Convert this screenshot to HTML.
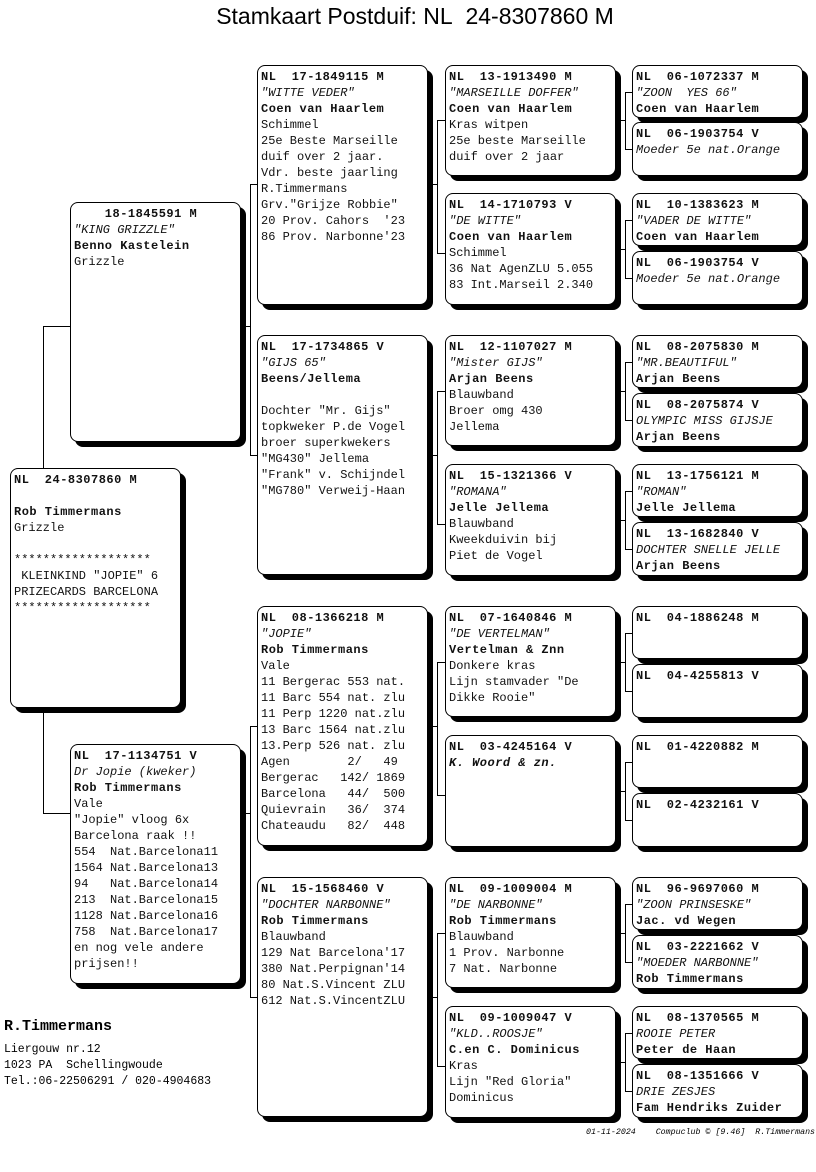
<!DOCTYPE html>
<html><head><meta charset="utf-8"><style>
body{margin:0;width:816px;height:1172px;background:#fff;position:relative;overflow:hidden;font-family:"Liberation Mono",monospace;}
.b{position:absolute;width:171px;border:1px solid #000;border-radius:8px;box-shadow:5px 5px 0 #000;background:#fff;box-sizing:border-box;padding:3px 0 0 3px;font-size:12px;line-height:16px;white-space:pre;color:#111;overflow:hidden}
.b b{font-weight:bold;letter-spacing:0.5px}
.l{position:absolute;background:#000}
i{font-style:italic}
</style></head><body>
<div style="position:absolute;left:0;width:830px;top:3px;text-align:center;font-family:'Liberation Sans',sans-serif;font-size:23px">Stamkaart Postduif: NL&nbsp; 24-8307860 M</div>

<!-- connectors -->
<div class="l" style="left:43px;top:326px;width:1px;height:142px"></div>
<div class="l" style="left:43px;top:326px;width:27px;height:1px"></div>
<div class="l" style="left:43px;top:712px;width:1px;height:101px"></div>
<div class="l" style="left:43px;top:813px;width:27px;height:1px"></div>

<div class="l" style="left:250px;top:184px;width:1px;height:271px"></div>
<div class="l" style="left:243px;top:326px;width:7px;height:1px"></div>
<div class="l" style="left:250px;top:184px;width:7px;height:1px"></div>
<div class="l" style="left:250px;top:455px;width:7px;height:1px"></div>
<div class="l" style="left:250px;top:726px;width:1px;height:271px"></div>
<div class="l" style="left:243px;top:813px;width:7px;height:1px"></div>
<div class="l" style="left:250px;top:726px;width:7px;height:1px"></div>
<div class="l" style="left:250px;top:997px;width:7px;height:1px"></div>

<div class="l" style="left:437px;top:120px;width:1px;height:133px"></div><div class="l" style="left:430px;top:184px;width:7px;height:1px"></div><div class="l" style="left:437px;top:120px;width:8px;height:1px"></div><div class="l" style="left:437px;top:253px;width:8px;height:1px"></div>
<div class="l" style="left:437px;top:391px;width:1px;height:133px"></div><div class="l" style="left:430px;top:455px;width:7px;height:1px"></div><div class="l" style="left:437px;top:391px;width:8px;height:1px"></div><div class="l" style="left:437px;top:524px;width:8px;height:1px"></div>
<div class="l" style="left:437px;top:662px;width:1px;height:133px"></div><div class="l" style="left:430px;top:726px;width:7px;height:1px"></div><div class="l" style="left:437px;top:662px;width:8px;height:1px"></div><div class="l" style="left:437px;top:795px;width:8px;height:1px"></div>
<div class="l" style="left:437px;top:933px;width:1px;height:133px"></div><div class="l" style="left:430px;top:997px;width:7px;height:1px"></div><div class="l" style="left:437px;top:933px;width:8px;height:1px"></div><div class="l" style="left:437px;top:1066px;width:8px;height:1px"></div>

<div class="l" style="left:625px;top:92px;width:1px;height:57px"></div><div class="l" style="left:625px;top:92px;width:7px;height:1px"></div><div class="l" style="left:625px;top:149px;width:7px;height:1px"></div><div class="l" style="left:618px;top:120px;width:7px;height:1px"></div>
<div class="l" style="left:625px;top:220px;width:1px;height:58px"></div><div class="l" style="left:625px;top:220px;width:7px;height:1px"></div><div class="l" style="left:625px;top:278px;width:7px;height:1px"></div><div class="l" style="left:618px;top:249px;width:7px;height:1px"></div>
<div class="l" style="left:625px;top:362px;width:1px;height:58px"></div><div class="l" style="left:625px;top:362px;width:7px;height:1px"></div><div class="l" style="left:625px;top:420px;width:7px;height:1px"></div><div class="l" style="left:618px;top:391px;width:7px;height:1px"></div>
<div class="l" style="left:625px;top:491px;width:1px;height:58px"></div><div class="l" style="left:625px;top:491px;width:7px;height:1px"></div><div class="l" style="left:625px;top:549px;width:7px;height:1px"></div><div class="l" style="left:618px;top:520px;width:7px;height:1px"></div>
<div class="l" style="left:625px;top:633px;width:1px;height:58px"></div><div class="l" style="left:625px;top:633px;width:7px;height:1px"></div><div class="l" style="left:625px;top:691px;width:7px;height:1px"></div><div class="l" style="left:618px;top:662px;width:7px;height:1px"></div>
<div class="l" style="left:625px;top:762px;width:1px;height:58px"></div><div class="l" style="left:625px;top:762px;width:7px;height:1px"></div><div class="l" style="left:625px;top:820px;width:7px;height:1px"></div><div class="l" style="left:618px;top:791px;width:7px;height:1px"></div>
<div class="l" style="left:625px;top:904px;width:1px;height:58px"></div><div class="l" style="left:625px;top:904px;width:7px;height:1px"></div><div class="l" style="left:625px;top:962px;width:7px;height:1px"></div><div class="l" style="left:618px;top:933px;width:7px;height:1px"></div>
<div class="l" style="left:625px;top:1033px;width:1px;height:58px"></div><div class="l" style="left:625px;top:1033px;width:7px;height:1px"></div><div class="l" style="left:625px;top:1091px;width:7px;height:1px"></div><div class="l" style="left:618px;top:1062px;width:7px;height:1px"></div>

<!-- col0 -->
<div class="b" style="left:10px;top:468px;height:240px"><b>NL  24-8307860 M</b>

<b>Rob Timmermans</b>
Grizzle

*******************
 KLEINKIND "JOPIE" 6
PRIZECARDS BARCELONA
*******************</div>

<!-- col1 -->
<div class="b" style="left:70px;top:202px;height:240px"><b>    18-1845591 M</b>
<i>"KING GRIZZLE"</i>
<b>Benno Kastelein</b>
Grizzle</div>
<div class="b" style="left:70px;top:744px;height:240px"><b>NL  17-1134751 V</b>
<i>Dr Jopie (kweker)</i>
<b>Rob Timmermans</b>
Vale
"Jopie" vloog 6x
Barcelona raak !!
554  Nat.Barcelona11
1564 Nat.Barcelona13
94   Nat.Barcelona14
213  Nat.Barcelona15
1128 Nat.Barcelona16
758  Nat.Barcelona17
en nog vele andere
prijsen!!</div>

<!-- col2 -->
<div class="b" style="left:257px;top:65px;height:240px"><b>NL  17-1849115 M</b>
<i>"WITTE VEDER"</i>
<b>Coen van Haarlem</b>
Schimmel
25e Beste Marseille
duif over 2 jaar.
Vdr. beste jaarling
R.Timmermans
Grv."Grijze Robbie"
20 Prov. Cahors  '23
86 Prov. Narbonne'23</div>
<div class="b" style="left:257px;top:335px;height:240px"><b>NL  17-1734865 V</b>
<i>"GIJS 65"</i>
<b>Beens/Jellema</b>

Dochter "Mr. Gijs"
topkweker P.de Vogel
broer superkwekers
"MG430" Jellema
"Frank" v. Schijndel
"MG780" Verweij-Haan</div>
<div class="b" style="left:257px;top:606px;height:240px"><b>NL  08-1366218 M</b>
<i>"JOPIE"</i>
<b>Rob Timmermans</b>
Vale
11 Bergerac 553 nat.
11 Barc 554 nat. zlu
11 Perp 1220 nat.zlu
13 Barc 1564 nat.zlu
13.Perp 526 nat. zlu
Agen        2/   49
Bergerac   142/ 1869
Barcelona   44/  500
Quievrain   36/  374
Chateaudu   82/  448</div>
<div class="b" style="left:257px;top:877px;height:240px"><b>NL  15-1568460 V</b>
<i>"DOCHTER NARBONNE"</i>
<b>Rob Timmermans</b>
Blauwband
129 Nat Barcelona'17
380 Nat.Perpignan'14
80 Nat.S.Vincent ZLU
612 Nat.S.VincentZLU</div>

<!-- col3 -->
<div class="b" style="left:445px;top:65px;height:111px"><b>NL  13-1913490 M</b>
<i>"MARSEILLE DOFFER"</i>
<b>Coen van Haarlem</b>
Kras witpen
25e beste Marseille
duif over 2 jaar</div>
<div class="b" style="left:445px;top:193px;height:112px"><b>NL  14-1710793 V</b>
<i>"DE WITTE"</i>
<b>Coen van Haarlem</b>
Schimmel
36 Nat AgenZLU 5.055
83 Int.Marseil 2.340</div>
<div class="b" style="left:445px;top:335px;height:111px"><b>NL  12-1107027 M</b>
<i>"Mister GIJS"</i>
<b>Arjan Beens</b>
Blauwband
Broer omg 430
Jellema</div>
<div class="b" style="left:445px;top:464px;height:112px"><b>NL  15-1321366 V</b>
<i>"ROMANA"</i>
<b>Jelle Jellema</b>
Blauwband
Kweekduivin bij
Piet de Vogel</div>
<div class="b" style="left:445px;top:606px;height:111px"><b>NL  07-1640846 M</b>
<i>"DE VERTELMAN"</i>
<b>Vertelman &amp; Znn</b>
Donkere kras
Lijn stamvader "De
Dikke Rooie"</div>
<div class="b" style="left:445px;top:735px;height:112px"><b>NL  03-4245164 V</b>
<b><i>K. Woord &amp; zn.</i></b></div>
<div class="b" style="left:445px;top:877px;height:111px"><b>NL  09-1009004 M</b>
<i>"DE NARBONNE"</i>
<b>Rob Timmermans</b>
Blauwband
1 Prov. Narbonne
7 Nat. Narbonne</div>
<div class="b" style="left:445px;top:1006px;height:112px"><b>NL  09-1009047 V</b>
<i>"KLD..ROOSJE"</i>
<b>C.en C. Dominicus</b>
Kras
Lijn "Red Gloria"
Dominicus</div>

<!-- col4 -->
<div class="b" style="left:632px;top:65px;height:53px"><b>NL  06-1072337 M</b>
<i>"ZOON  YES 66"</i>
<b>Coen van Haarlem</b></div>
<div class="b" style="left:632px;top:122px;height:54px"><b>NL  06-1903754 V</b>
<i>Moeder 5e nat.Orange</i></div>
<div class="b" style="left:632px;top:193px;height:53px"><b>NL  10-1383623 M</b>
<i>"VADER DE WITTE"</i>
<b>Coen van Haarlem</b></div>
<div class="b" style="left:632px;top:251px;height:54px"><b>NL  06-1903754 V</b>
<i>Moeder 5e nat.Orange</i></div>
<div class="b" style="left:632px;top:335px;height:53px"><b>NL  08-2075830 M</b>
<i>"MR.BEAUTIFUL"</i>
<b>Arjan Beens</b></div>
<div class="b" style="left:632px;top:393px;height:54px"><b>NL  08-2075874 V</b>
<i>OLYMPIC MISS GIJSJE</i>
<b>Arjan Beens</b></div>
<div class="b" style="left:632px;top:464px;height:53px"><b>NL  13-1756121 M</b>
<i>"ROMAN"</i>
<b>Jelle Jellema</b></div>
<div class="b" style="left:632px;top:522px;height:54px"><b>NL  13-1682840 V</b>
<i>DOCHTER SNELLE JELLE</i>
<b>Arjan Beens</b></div>
<div class="b" style="left:632px;top:606px;height:53px"><b>NL  04-1886248 M</b></div>
<div class="b" style="left:632px;top:664px;height:54px"><b>NL  04-4255813 V</b></div>
<div class="b" style="left:632px;top:735px;height:53px"><b>NL  01-4220882 M</b></div>
<div class="b" style="left:632px;top:793px;height:54px"><b>NL  02-4232161 V</b></div>
<div class="b" style="left:632px;top:877px;height:53px"><b>NL  96-9697060 M</b>
<i>"ZOON PRINSESKE"</i>
<b>Jac. vd Wegen</b></div>
<div class="b" style="left:632px;top:935px;height:54px"><b>NL  03-2221662 V</b>
<i>"MOEDER NARBONNE"</i>
<b>Rob Timmermans</b></div>
<div class="b" style="left:632px;top:1006px;height:53px"><b>NL  08-1370565 M</b>
<i>ROOIE PETER</i>
<b>Peter de Haan</b></div>
<div class="b" style="left:632px;top:1064px;height:54px"><b>NL  08-1351666 V</b>
<i>DRIE ZESJES</i>
<b>Fam Hendriks Zuider</b></div>

<div style="position:absolute;left:4px;top:1018px;font-size:15px;font-weight:bold">R.Timmermans</div>
<div style="position:absolute;left:4px;top:1042px;font-size:11.5px;line-height:16px;white-space:pre">Liergouw nr.12
1023 PA  Schellingwoude
Tel.:06-22506291 / 020-4904683</div>
<div style="position:absolute;left:586px;top:1128px;font-size:8.3px;font-style:italic;white-space:pre">01-11-2024    Compuclub © [9.46]  R.Timmermans</div>
</body></html>
